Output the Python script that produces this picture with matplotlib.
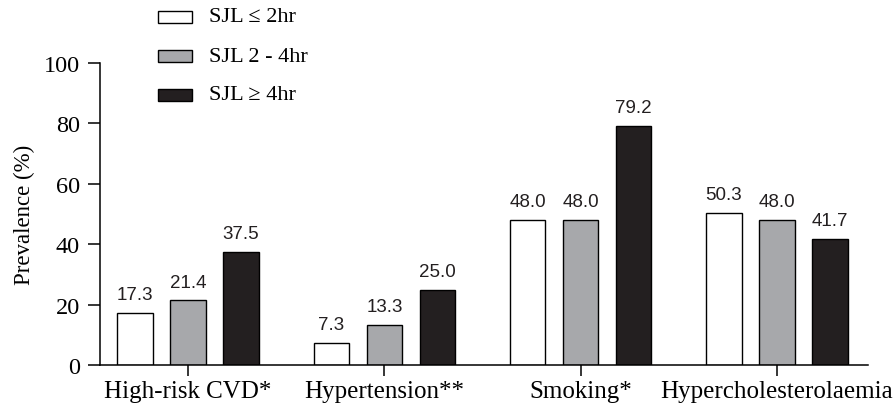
import matplotlib
matplotlib.use("Agg")
import matplotlib.pyplot as plt
from matplotlib.patches import Rectangle
import numpy as np

categories = ["High-risk CVD*", "Hypertension**", "Smoking*", "Hypercholesterolaemia"]
series_names = ["SJL \u2264 2hr", "SJL 2 - 4hr", "SJL \u2265 4hr"]
sjl_le2 = [17.3, 7.3, 48.0, 50.3]
sjl_2_4 = [21.4, 13.3, 48.0, 48.0]
sjl_ge4 = [37.5, 25.0, 79.2, 41.7]
yticks = [0, 20, 40, 60, 80, 100]

colors = ["#ffffff", "#a7a8ab", "#231f20"]
serif = ["Liberation Serif", "DejaVu Serif"]
sans = ["Liberation Sans", "DejaVu Sans"]

W, H = 893, 406
fig = plt.figure(figsize=(W / 100, H / 100), dpi=100)
ax = fig.add_axes([100 / W, 1 - 366 / H, (868 - 100) / W, (366 - 64) / H])

x = np.arange(len(categories))
width = 0.18
offset = 0.27
for i, (vals, col) in enumerate(zip([sjl_le2, sjl_2_4, sjl_ge4], colors)):
    pos = x + (i - 1) * offset
    bars = ax.bar(pos, vals, width=width, color=col, edgecolor="black", linewidth=1.0)
    for b, v in zip(bars, vals):
        ax.text(b.get_x() + b.get_width() / 2, v + 3.2, f"{v:.1f}",
                ha="center", va="bottom", fontsize=13.5, family=sans, color="#231f20")

ax.set_xlim(-0.449, 3.464)
ax.set_ylim(0, 100)
ax.set_yticks(yticks)
ax.set_xticks(x)
ax.set_xticklabels(categories, fontfamily=serif, fontsize=18)
for lab in ax.get_yticklabels():
    lab.set_fontfamily(serif)
    lab.set_fontsize(17.5)
ax.set_ylabel("Prevalence (%)", fontfamily=serif, fontsize=16.5, labelpad=6)

ax.spines["top"].set_visible(False)
ax.spines["right"].set_visible(False)
ax.spines["left"].set_linewidth(1.1)
ax.spines["bottom"].set_linewidth(1.1)
ax.tick_params(axis="y", length=8.6, width=1.1, pad=6)
ax.tick_params(axis="x", length=8, width=1.1, pad=3)

# legend drawn manually
rows_y = [18, 57, 96]
for name, col, yc in zip(series_names, colors, rows_y):
    fig.add_artist(Rectangle((158 / W, 1 - (yc + 6) / H), 34 / W, 12 / H,
                             transform=fig.transFigure, facecolor=col,
                             edgecolor="black", linewidth=1.0))
    fig.text(209 / W, 1 - yc / H, name, ha="left", va="center",
             fontsize=16, family=serif)

fig.savefig("out.png", dpi=100)
